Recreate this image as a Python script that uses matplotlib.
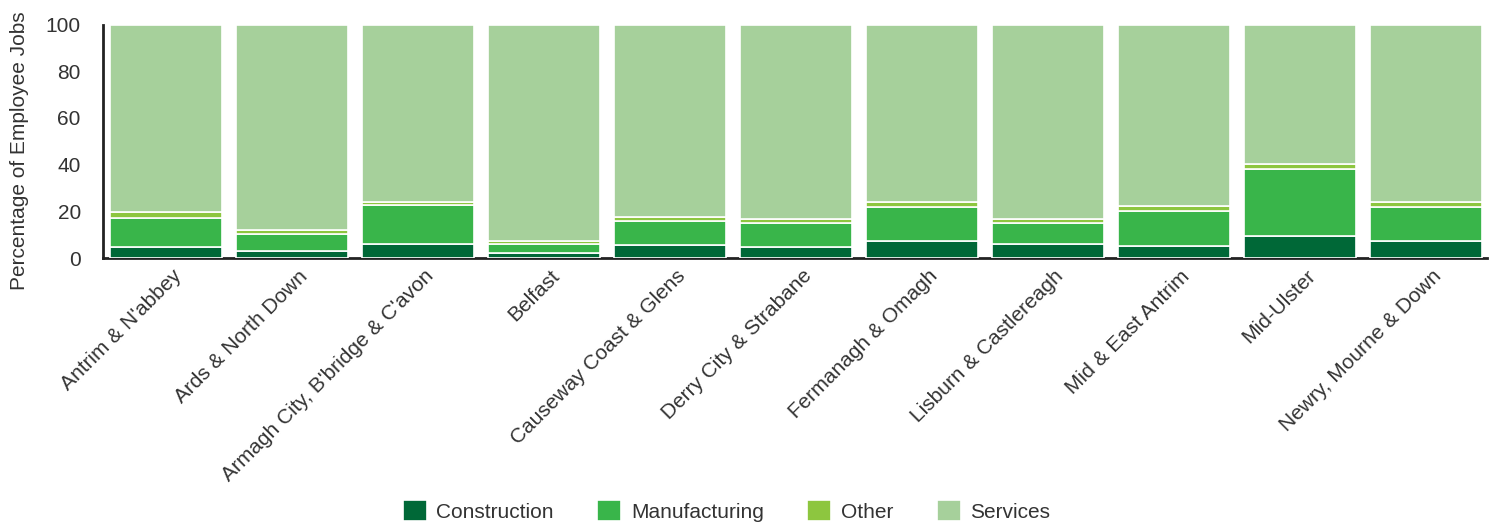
import numpy as np
import matplotlib.pyplot as plt
import matplotlib.transforms as mtransforms

plt.rcParams['font.family'] = ['Liberation Sans', 'DejaVu Sans']

# Share of employee jobs by sector, per council area (%)
councils = ["Antrim & N'abbey", "Ards & North Down", "Armagh City, B'bridge & C'avon",
            "Belfast", "Causeway Coast & Glens", "Derry City & Strabane",
            "Fermanagh & Omagh", "Lisburn & Castlereagh", "Mid & East Antrim",
            "Mid-Ulster", "Newry, Mourne & Down"]
construction = [4.8, 3.1, 6.0, 2.0, 5.6, 4.6, 7.3, 6.1, 5.3, 9.4, 7.3]
manufacturing = [12.3, 7.4, 16.5, 3.9, 10.1, 10.2, 14.4, 8.9, 14.7, 28.6, 14.4]
other = [2.4, 1.3, 1.7, 1.4, 1.7, 1.7, 2.4, 1.5, 2.1, 2.2, 2.4]
services = [100 - c - m - o for c, m, o in zip(construction, manufacturing, other)]

series = [("Construction", construction, "#006837"),
          ("Manufacturing", manufacturing, "#39b54a"),
          ("Other", other, "#8dc63f"),
          ("Services", services, "#a6d09b")]

fig = plt.figure(figsize=(14.95, 5.22), dpi=100)
ax = fig.add_axes([0.0689, 0.5057, 0.9258, 0.4473])

x = np.arange(len(councils))
bottom = np.zeros(len(councils))
for name, vals, col in series:
    ax.bar(x, vals, 0.89, bottom=bottom, color=col, edgecolor="white",
           linewidth=1.2, label=name, zorder=3)
    bottom += np.array(vals)

ax.set_xlim(-0.5, 10.484)
ax.set_ylim(0, 100)
ax.set_yticks([0, 20, 40, 60, 80, 100])
ax.set_xticks(x)
ax.set_xticklabels(councils, rotation=45, ha="right", rotation_mode="anchor")
ax.tick_params(axis="both", labelsize=15, colors="#333333", length=0)
ax.tick_params(axis="x", pad=6)
ax.tick_params(axis="y", pad=16)

# nudge the rotated labels a little to the right of the bar centres
shift = mtransforms.ScaledTranslation(6 / 100, 0, fig.dpi_scale_trans)
for lab in ax.get_xticklabels():
    lab.set_transform(lab.get_transform() + shift)

ax.set_ylabel("Percentage of Employee Jobs", fontsize=15, color="#333333", labelpad=12)
ax.yaxis.label.set_y(0.46)

for s in ["top", "right"]:
    ax.spines[s].set_visible(False)
ax.spines["left"].set_color("#222222")
ax.spines["left"].set_linewidth(2)
ax.spines["bottom"].set_color("#222222")
ax.spines["bottom"].set_linewidth(2)
ax.spines["bottom"].set_zorder(1)

fig.legend(loc="center", bbox_to_anchor=(0.486, 0.021), ncol=4, frameon=False,
           fontsize=15, handlelength=1.15, handleheight=1.15, columnspacing=2.1,
           handletextpad=0.45, labelcolor="#333333")

fig.savefig("out.png", dpi=100)
